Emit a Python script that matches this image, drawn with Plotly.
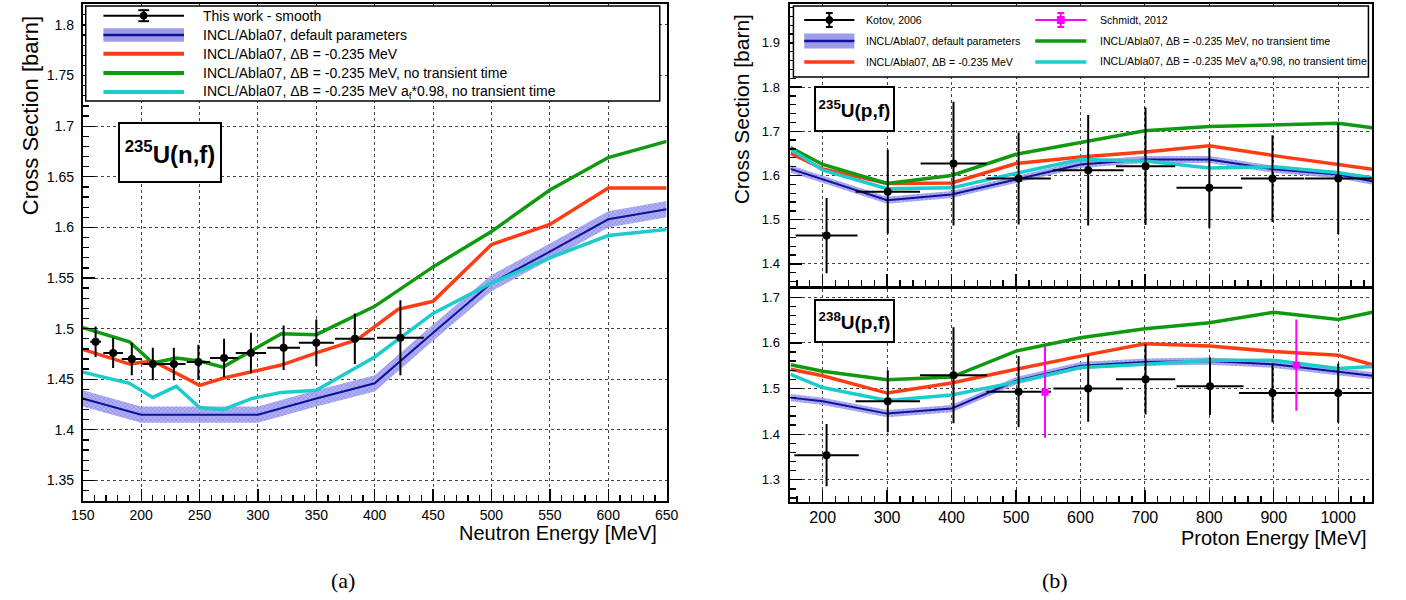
import plotly.graph_objects as go

W, H = 1406, 600
FONT = "Liberation Sans, Arial, sans-serif"

# ------------------------------------------------------------------
# (a) 235U(n,f)  -- neutron energy
# ------------------------------------------------------------------
n_data_E = [161, 176, 192, 210, 228, 249, 271, 294, 322, 350, 383, 422]
n_data_V = [1.487, 1.476, 1.470, 1.465, 1.465, 1.467, 1.471, 1.476, 1.481, 1.486, 1.490, 1.491]
n_data_dE = [4.6, 8.4, 8.7, 9, 10, 10, 12, 13, 14, 15, 17, 20]
n_data_dV = [0.015, 0.015, 0.016, 0.016, 0.016, 0.017, 0.019, 0.020, 0.022, 0.023, 0.025, 0.037]

n_def_E = [150, 200, 250, 300, 350, 400, 450, 500, 550, 600, 650]
n_def_V = [1.431, 1.415, 1.415, 1.415, 1.431, 1.446, 1.496, 1.545, 1.576, 1.608, 1.618]
n_def_err = 0.008

n_dB_E = [150, 190, 210, 250, 270, 320, 350, 385, 420, 450, 500, 550, 600, 650]
n_dB_V = [1.4795, 1.465, 1.468, 1.444, 1.451, 1.464, 1.476, 1.489, 1.519, 1.527, 1.583, 1.603, 1.639, 1.639]

n_nt_E = [150, 190, 210, 230, 250, 270, 320, 350, 400, 450, 500, 550, 600, 650]
n_nt_V = [1.501, 1.487, 1.466, 1.471, 1.468, 1.462, 1.495, 1.494, 1.522, 1.561, 1.596, 1.637, 1.669, 1.685]

n_af_E = [150, 190, 210, 230, 250, 270, 295, 320, 350, 400, 450, 500, 550, 600, 650]
n_af_V = [1.457, 1.446, 1.432, 1.443, 1.422, 1.420, 1.431, 1.437, 1.439, 1.472, 1.515, 1.545, 1.570, 1.592, 1.598]

# ------------------------------------------------------------------
# (b) proton induced -- model grid
# ------------------------------------------------------------------
p_E = [150, 200, 300, 400, 500, 600, 700, 800, 900, 1000, 1053]

u5_def_V = [1.615, 1.591, 1.544, 1.557, 1.591, 1.625, 1.636, 1.636, 1.614, 1.602, 1.587]
u5_dB_V = [1.650, 1.615, 1.582, 1.583, 1.627, 1.642, 1.653, 1.667, 1.645, 1.625, 1.614]
u5_nt_V = [1.663, 1.625, 1.582, 1.600, 1.648, 1.674, 1.701, 1.711, 1.714, 1.718, 1.708]
u5_af_V = [1.660, 1.612, 1.570, 1.572, 1.605, 1.636, 1.633, 1.617, 1.620, 1.606, 1.595]

u8_def_V = [1.480, 1.472, 1.445, 1.456, 1.517, 1.550, 1.558, 1.560, 1.553, 1.537, 1.528]
u8_dB_V = [1.542, 1.528, 1.490, 1.512, 1.542, 1.571, 1.598, 1.593, 1.581, 1.573, 1.552]
u8_nt_V = [1.552, 1.538, 1.519, 1.525, 1.582, 1.611, 1.631, 1.644, 1.667, 1.651, 1.667]
u8_af_V = [1.531, 1.502, 1.474, 1.486, 1.514, 1.546, 1.553, 1.562, 1.562, 1.544, 1.548]
p_def_err = 0.008

kot5_E = [206, 301, 403, 504, 612, 701, 800, 898, 1000]
kot5_V = [1.464, 1.563, 1.627, 1.593, 1.612, 1.621, 1.572, 1.593, 1.593]
kot5_dE = [48, 50, 51, 50, 55, 46, 51, 49, 52]
kot5_dV = [0.085, 0.095, 0.140, 0.104, 0.125, 0.133, 0.091, 0.098, 0.126]

kot8_E = [206, 301, 403, 504, 612, 701, 801, 898, 1000]
kot8_V = [1.354, 1.472, 1.529, 1.493, 1.500, 1.520, 1.505, 1.490, 1.490]
kot8_dE = [50, 50, 52, 50, 54, 46, 52, 52, 52]
kot8_dV = [0.068, 0.068, 0.105, 0.078, 0.073, 0.077, 0.063, 0.064, 0.065]

sch8_E = [545, 935]
sch8_V = [1.492, 1.551]
sch8_dE = [6, 6]
sch8_dV = [0.100, 0.100]

# legend labels
L_THIS = "This work - smooth"
L_KOT = "Kotov, 2006"
L_SCH = "Schmidt, 2012"
L_DEF = "INCL/Abla07, default parameters"
L_DB = "INCL/Abla07, \u0394B = -0.235 MeV"
L_NT = "INCL/Abla07, \u0394B = -0.235 MeV, no transient time"
L_AF = "INCL/Abla07, \u0394B = -0.235 MeV a<sub>f</sub>*0.98, no transient time"

# styles
C_RED = "#ff3c14"
C_GRN = "#0f990f"
C_CYN = "#1ccccc"
C_BLU = "#10109a"
C_BAND_BG = "rgba(165,165,240,0.85)"
C_BAND_FG = "#4040dc"
C_MAG = "#ff00ff"

fig = go.Figure()


def band(xs, ys, hw, xa, ya):
    up = [v + hw for v in ys]
    lo = [v - hw for v in ys]
    fig.add_trace(go.Scatter(
        x=list(xs) + list(xs)[::-1], y=up + lo[::-1], fill="toself", mode="lines",
        line=dict(width=0), fillcolor=C_BAND_BG,
        fillpattern=dict(shape="x", fgcolor=C_BAND_FG, bgcolor=C_BAND_BG, size=3, solidity=0.3),
        xaxis=xa, yaxis=ya, hoverinfo="skip", showlegend=False))


def line(xs, ys, color, width, xa, ya, name):
    fig.add_trace(go.Scatter(x=xs, y=ys, mode="lines", line=dict(color=color, width=width),
                             xaxis=xa, yaxis=ya, name=name, showlegend=False))


def data(xs, ys, dx, dy, xa, ya, name, color="black", symbol="circle", size=8):
    fig.add_trace(go.Scatter(
        x=xs, y=ys, mode="markers", name=name, showlegend=False,
        marker=dict(color=color, size=size, symbol=symbol),
        error_x=dict(type="data", array=dx, color=color, thickness=2, width=0),
        error_y=dict(type="data", array=dy, color=color, thickness=2, width=0),
        xaxis=xa, yaxis=ya))


# left panel
band(n_def_E, n_def_V, n_def_err, "x", "y")
line(n_def_E, n_def_V, C_BLU, 2, "x", "y", L_DEF)
line(n_dB_E, n_dB_V, C_RED, 3.5, "x", "y", L_DB)
line(n_nt_E, n_nt_V, C_GRN, 3.5, "x", "y", L_NT)
line(n_af_E, n_af_V, C_CYN, 3.5, "x", "y", L_AF)
data(n_data_E, n_data_V, n_data_dE, n_data_dV, "x", "y", L_THIS)

# right top
band(p_E, u5_def_V, p_def_err, "x2", "y2")
line(p_E, u5_def_V, C_BLU, 2, "x2", "y2", L_DEF)
line(p_E, u5_dB_V, C_RED, 3.5, "x2", "y2", L_DB)
line(p_E, u5_nt_V, C_GRN, 3.5, "x2", "y2", L_NT)
line(p_E, u5_af_V, C_CYN, 3.5, "x2", "y2", L_AF)
data(kot5_E, kot5_V, kot5_dE, kot5_dV, "x2", "y2", L_KOT)

# right bottom
band(p_E, u8_def_V, p_def_err, "x3", "y3")
line(p_E, u8_def_V, C_BLU, 2, "x3", "y3", L_DEF)
line(p_E, u8_dB_V, C_RED, 3.5, "x3", "y3", L_DB)
line(p_E, u8_nt_V, C_GRN, 3.5, "x3", "y3", L_NT)
line(p_E, u8_af_V, C_CYN, 3.5, "x3", "y3", L_AF)
data(kot8_E, kot8_V, kot8_dE, kot8_dV, "x3", "y3", L_KOT)
data(sch8_E, sch8_V, sch8_dE, sch8_dV, "x3", "y3", L_SCH, color=C_MAG, symbol="square", size=7)


def px(x):
    return x / W


def py(y):
    return 1 - y / H


def axis(domain, rng, dtick, mdtick, fs, ticklen=12, mlen=6, labels=True, standoff=None):
    d = dict(domain=domain, range=rng, dtick=dtick, tick0=0, showline=True, linecolor="black",
             linewidth=2, mirror=True, ticks="inside", ticklen=ticklen, tickwidth=1.3,
             tickcolor="black", showgrid=True, gridcolor="#444444", griddash="dot", gridwidth=1,
             zeroline=False, showticklabels=labels,
             tickfont=dict(family=FONT, size=fs, color="black"),
             minor=dict(ticks="inside", ticklen=mlen, tickwidth=1.3, tickcolor="black",
                        dtick=mdtick, showgrid=False))
    if standoff is not None:
        d["ticklabelstandoff"] = standoff
    return d


xl = [px(72), px(666)]
xr = [px(792), px(1384)]
fig.update_layout(
    width=W, height=H, margin=dict(l=0, r=0, t=0, b=0),
    paper_bgcolor="white", plot_bgcolor="white", showlegend=False,
    xaxis=axis(xl, [150, 650], 50, 10, 14),
    yaxis=axis([py(500.7), py(4)], [1.33, 1.8207], 0.05, 0.01, 14, standoff=4),
    xaxis2=axis(xr, [150, 1053], 100, 20, 16, labels=False),
    yaxis2=axis([py(286), py(4)], [1.35, 1.988], 0.1, 0.02, 13, standoff=6),
    xaxis3=axis(xr, [150, 1053], 100, 20, 16),
    yaxis3=axis([py(501.7), py(289)], [1.252, 1.718], 0.1, 0.02, 13, standoff=6),
)
fig.update_layout(xaxis=dict(anchor="y"), yaxis=dict(anchor="x"),
                  xaxis2=dict(anchor="y2"), yaxis2=dict(anchor="x2"),
                  xaxis3=dict(anchor="y3"), yaxis3=dict(anchor="x3"))

shapes = []
ann = []


def rect(x0, y0, x1, y1, lw=1.5, fill="white", lc="black"):
    shapes.append(dict(type="rect", xref="paper", yref="paper", x0=px(x0), x1=px(x1),
                       y0=py(y1), y1=py(y0), line=dict(color=lc, width=lw), fillcolor=fill,
                       layer="above"))


def seg(x0, y0, x1, y1, color, width):
    shapes.append(dict(type="line", xref="paper", yref="paper", x0=px(x0), x1=px(x1),
                       y0=py(y0), y1=py(y1), line=dict(color=color, width=width), layer="above"))


def leg_line(x0, x1, yc, color, width):
    seg(x0, yc, x1, yc, color, width)


def leg_err(x0, x1, yc, color, half, cap, marker="circle", r=3.5):
    xc = (x0 + x1) / 2
    seg(x0, yc, x1, yc, color, 2)
    seg(xc, yc - half, xc, yc + half, color, 2)
    seg(xc - cap, yc - half, xc + cap, yc - half, color, 2)
    seg(xc - cap, yc + half, xc + cap, yc + half, color, 2)
    shapes.append(dict(type="circle" if marker == "circle" else "rect", xref="paper", yref="paper",
                       x0=px(xc - r), x1=px(xc + r), y0=py(yc + r), y1=py(yc - r),
                       line=dict(color=color, width=1), fillcolor=color, layer="above"))


def leg_band(x0, x1, yc, half):
    rect(x0, yc - half, x1, yc + half, lw=0, fill="#9c9cea")
    seg(x0, yc, x1, yc, C_BLU, 2.5)


def text(x, y, s, size, xanchor="left", yanchor="middle", angle=0, family=FONT, color="black"):
    ann.append(dict(x=px(x), y=py(y), xref="paper", yref="paper", text=s, showarrow=False,
                    xanchor=xanchor, yanchor=yanchor, textangle=angle,
                    font=dict(family=family, size=size, color=color)))


# ---- left legend ----
rect(75, 6, 659, 101, lw=1.5)
rows = [15.7, 35, 53.7, 73, 92]
sx0, sx1, tx = 93, 175, 192
leg_err(sx0, sx1, rows[0], "black", 5.5, 5.5)
leg_band(sx0, sx1, rows[1], 6.7)
leg_line(sx0, sx1, rows[2], C_RED, 4)
leg_line(sx0, sx1, rows[3], C_GRN, 4)
leg_line(sx0, sx1, rows[4], C_CYN, 4)
for r, s in zip(rows, [L_THIS, L_DEF, L_DB, L_NT, L_AF]):
    text(tx, r, s, 14)

# ---- right legend ----
rect(795, 6, 1380, 77, lw=1.5)
rr = [20, 41, 62]
c1 = (806, 857, 867)
c2 = (1041, 1093, 1105)
leg_err(c1[0], c1[1], rr[0], "black", 7, 3.5)
leg_err(c2[0], c2[1], rr[0], C_MAG, 7, 3.5, marker="square", r=3.5)
leg_band(c1[0], c1[1], rr[1], 7.5)
leg_line(c2[0], c2[1], rr[1], C_GRN, 3.5)
leg_line(c1[0], c1[1], rr[2], C_RED, 3.5)
leg_line(c2[0], c2[1], rr[2], C_CYN, 3.5)
text(c1[2], rr[0], L_KOT, 10.6)
text(c2[2], rr[0], L_SCH, 10.6)
text(c1[2], rr[1], L_DEF, 10.6)
text(c2[2], rr[1], L_NT, 10.6)
text(c1[2], rr[2], L_DB, 10.6)
text(c2[2], rr[2], L_AF, 10.6)

# ---- reaction label boxes ----
for (cx, cy, w, h, s, fs) in [(160.4, 152.2, 100, 57, "<b><sup>235</sup>U(n,f)</b>", 24),
                              (857.5, 108.9, 77, 42, "<b><sup>235</sup>U(p,f)</b>", 19),
                              (857.5, 321.2, 77, 40, "<b><sup>238</sup>U(p,f)</b>", 19)]:
    ann.append(dict(x=px(cx), y=py(cy), xref="paper", yref="paper", text=s, showarrow=False,
                    xanchor="center", yanchor="middle", width=w, height=h, align="center",
                    valign="middle", bordercolor="black", borderwidth=2, borderpad=0,
                    bgcolor="white", font=dict(family=FONT, size=fs, color="black")))

# ---- axis titles ----
text(19, 14, "Cross Section [barn]", 22, xanchor="center", yanchor="top", angle=-90)
text(742, 12, "Cross Section [barn]", 21, xanchor="center", yanchor="top", angle=-90)
text(658, 533, "Neutron Energy [MeV]", 20, xanchor="right")
text(1381, 538, "Proton Energy [MeV]", 20, xanchor="right")

# ---- captions ----
text(337, 580, "(a)", 22, xanchor="center", family="Liberation Serif, serif")
text(1061, 580, "(b)", 22, xanchor="center", family="Liberation Serif, serif")

fig.update_layout(shapes=shapes, annotations=ann)
# the page body gets no margin and no scrollbars, so the 1406x600 figure fills the window exactly
fig.write_html(
    "out.html",
    config={"displayModeBar": False, "staticPlot": True},
    post_script="document.body.style.margin='0px';"
                "document.body.style.overflow='hidden';"
                "document.documentElement.style.overflow='hidden';",
)
